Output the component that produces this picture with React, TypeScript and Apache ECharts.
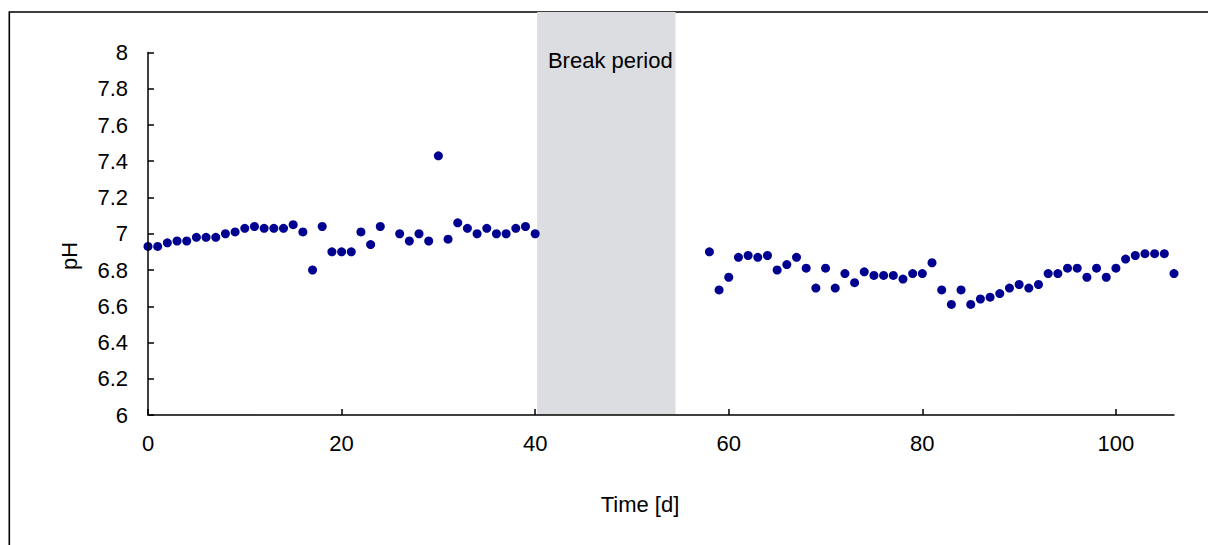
import React, { useEffect, useRef } from "react";
import * as echarts from "echarts";

const days1 = [0,1,2,3,4,5,6,7,8,9,10,11,12,13,14,15,16,17,18,19,20,21,22,23,24,26,27,28,29,30,31,32,33,34,35,36,37,38,39,40];
const ph1 = [6.93,6.93,6.95,6.96,6.96,6.98,6.98,6.98,7.0,7.01,7.03,7.04,7.03,7.03,7.03,7.05,7.01,6.8,7.04,6.9,6.9,6.9,7.01,6.94,7.04,7.0,6.96,7.0,6.96,7.43,6.97,7.06,7.03,7.0,7.03,7.0,7.0,7.03,7.04,7.0];
const days2 = [58,59,60,61,62,63,64,65,66,67,68,69,70,71,72,73,74,75,76,77,78,79,80,81,82,83,84,85,86,87,88,89,90,91,92,93,94,95,96,97,98,99,100,101,102,103,104,105,106];
const ph2 = [6.9,6.69,6.76,6.87,6.88,6.87,6.88,6.8,6.83,6.87,6.81,6.7,6.81,6.7,6.78,6.73,6.79,6.77,6.77,6.77,6.75,6.78,6.78,6.84,6.69,6.61,6.69,6.61,6.64,6.65,6.67,6.7,6.72,6.7,6.72,6.78,6.78,6.81,6.81,6.76,6.81,6.76,6.81,6.86,6.88,6.89,6.89,6.89,6.78];
const xTicks = [0, 20, 40, 60, 80, 100];
const breakStart = 40.2;
const breakEnd = 54.5;
const breakLabel = "Break period";
const xTitle = "Time [d]";
const yTitle = "pH";

export default function App() {
  const ref = useRef<HTMLDivElement>(null);
  useEffect(() => {
    if (!ref.current) return;
    const chart = echarts.init(ref.current, null, { renderer: "svg" });
    const font = "Liberation Sans, Arial, sans-serif";
    const fs = 22;
    const points = [
      ...days1.map((d, i) => [d, ph1[i]]),
      ...days2.map((d, i) => [d, ph2[i]]),
    ];
    chart.setOption({
      animation: false,
      backgroundColor: "#ffffff",
      grid: [
        { left: 148, right: 34, top: 52.5, bottom: 130 },
        { left: 148, right: 34, top: 12, bottom: 130 },
      ],
      xAxis: [
        {
          type: "value",
          gridIndex: 0,
          min: 0,
          max: 106,
          interval: 20,
          z: 5,
          splitLine: { show: false },
          axisLine: { lineStyle: { color: "#000", width: 1.5 } },
          axisTick: { inside: true, length: 6, customValues: xTicks, lineStyle: { color: "#000", width: 1.5 } },
          axisLabel: { color: "#000", fontSize: fs, fontFamily: font, margin: 17, customValues: xTicks },
        },
        { type: "value", gridIndex: 1, min: 0, max: 106, show: false },
      ],
      yAxis: [
        {
          type: "value",
          gridIndex: 0,
          min: 6,
          max: 8,
          interval: 0.2,
          z: 5,
          splitLine: { show: false },
          axisLine: { show: true, lineStyle: { color: "#000", width: 1.5 } },
          axisTick: { show: true, inside: true, length: 6, lineStyle: { color: "#000", width: 1.5 } },
          axisLabel: {
            color: "#000",
            fontSize: fs,
            fontFamily: font,
            margin: 20,
            formatter: (v: number) => String(Math.round(v * 10) / 10),
          },
        },
        { type: "value", gridIndex: 1, min: 0, max: 1, show: false },
      ],
      series: [
        {
          type: "scatter",
          xAxisIndex: 1,
          yAxisIndex: 1,
          data: [],
          z: 0,
          markArea: {
            silent: true,
            itemStyle: { color: "#dcdde0" },
            label: {
              show: true,
              position: "insideTop",
              distance: 37,
              offset: [4, 0],
              color: "#000",
              fontSize: fs,
              fontFamily: font,
              formatter: breakLabel,
            },
            data: [[{ xAxis: breakStart }, { xAxis: breakEnd }]],
          },
        },
        {
          type: "scatter",
          xAxisIndex: 0,
          yAxisIndex: 0,
          data: points,
          symbolSize: 9,
          itemStyle: { color: "#000090", opacity: 1 },
          z: 3,
        },
      ],
      graphic: [
        {
          type: "rect",
          shape: { x: 9.3, y: 12, width: 1400, height: 800 },
          style: { fill: "none", stroke: "#000", lineWidth: 1.6 },
          silent: true,
        },
        {
          type: "text",
          x: 69,
          y: 256,
          rotation: Math.PI / 2,
          style: {
            text: yTitle,
            fontSize: fs,
            fontFamily: font,
            fill: "#000",
            align: "center",
            verticalAlign: "middle",
          },
        },
        {
          type: "text",
          x: 640,
          y: 504,
          style: {
            text: xTitle,
            fontSize: fs,
            fontFamily: font,
            fill: "#000",
            align: "center",
            verticalAlign: "middle",
          },
        },
      ],
    });
    return () => chart.dispose();
  }, []);
  return (
    <div
      ref={ref}
      style={{ position: "fixed", left: 0, top: 0, width: 1208, height: 545, background: "#fff" }}
    />
  );
}
